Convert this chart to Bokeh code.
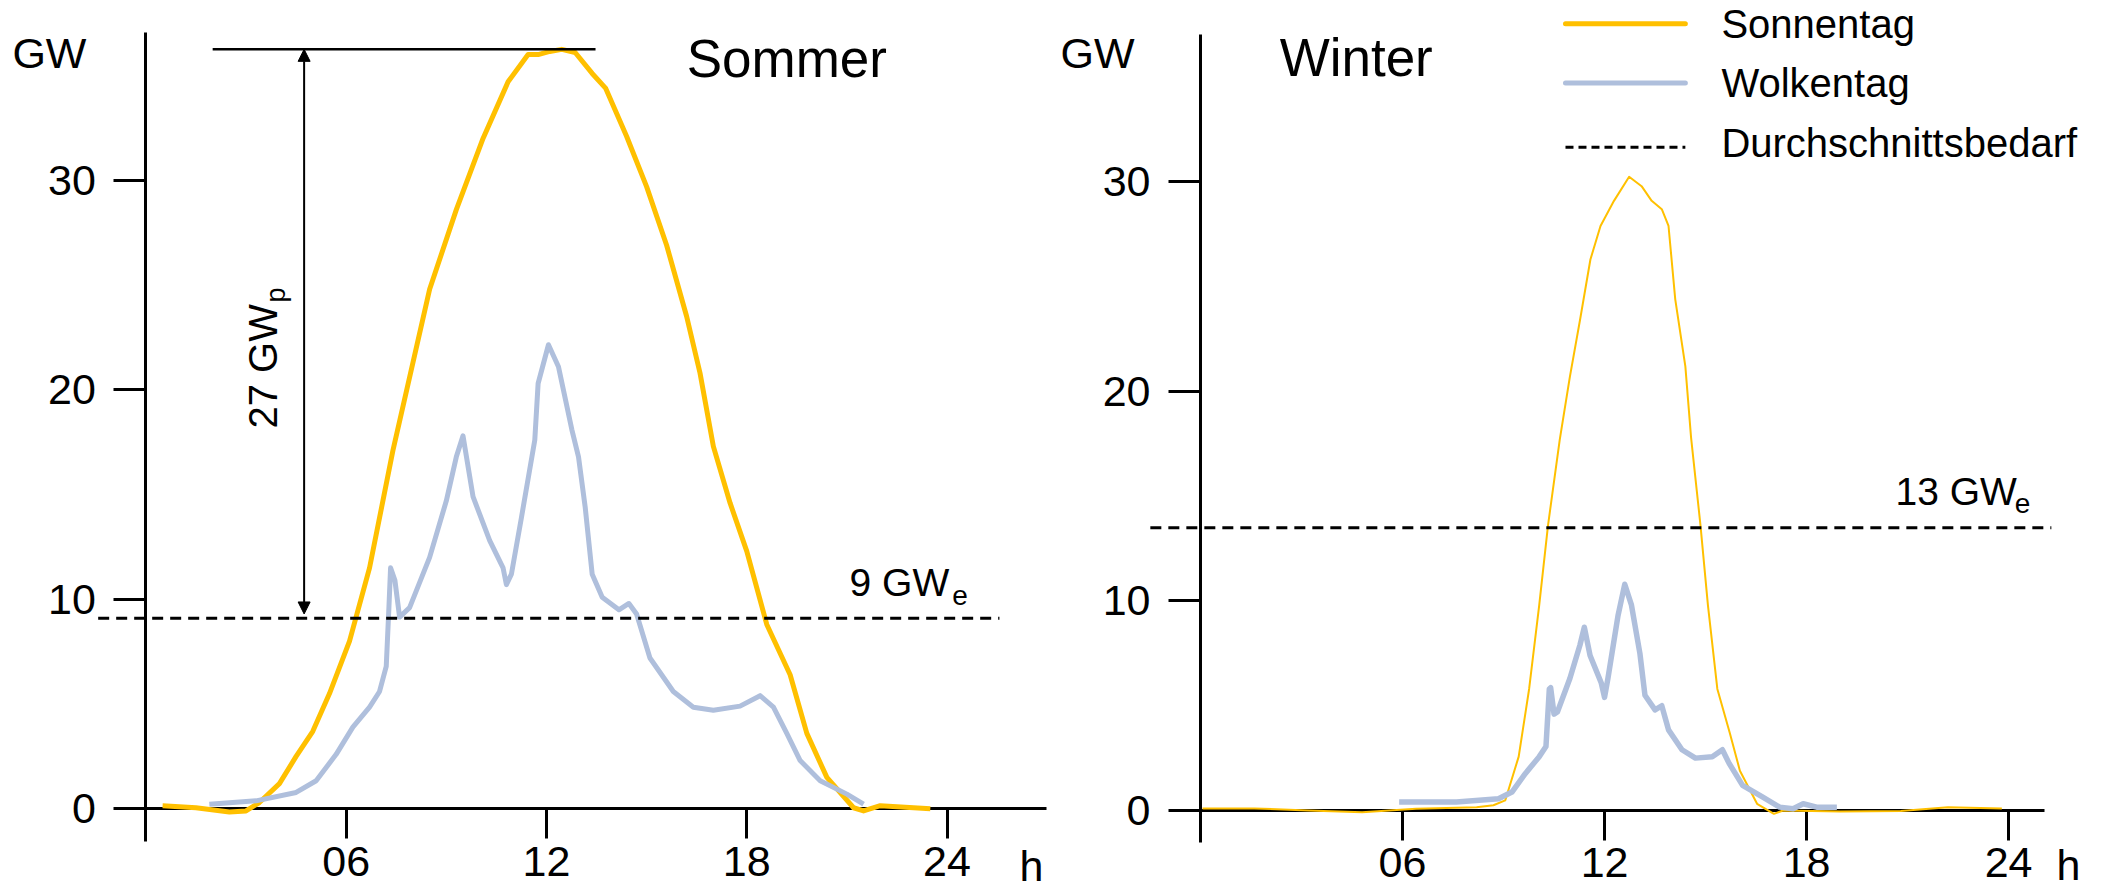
import math
from bokeh.plotting import figure
from bokeh.layouts import row
from bokeh.models import LinearAxis, FixedTicker, Range1d, Arrow, NormalHead
from bokeh.core.properties import value
from bokeh.embed import file_html
from bokeh.resources import INLINE

FONT = "Liberation Sans"
YELLOW = "#FFC000"
BLUE = "#AFBFDC"

# ---------------- data (hours, GW) ----------------
x_ticks = [6, 12, 18, 24]
x_tick_labels = ["06", "12", "18", "24"]
y_ticks = [0, 10, 20, 30]

sun_summer_h = [0.5, 1.5, 2.5, 3.0, 3.4, 4.0, 4.5, 5.0, 5.5, 6.1, 6.7, 7.4, 7.9, 8.5, 9.3, 10.1,
                10.85, 11.45, 11.75, 12.1, 12.46, 12.86, 13.37, 13.77, 14.4, 15.0, 15.6, 16.2,
                16.6, 17.0, 17.5, 18.0, 18.6, 19.3, 19.8, 20.4, 21.2, 21.5, 22.0, 23.5]
sun_summer_gw = [0.15, 0.05, -0.15, -0.1, 0.3, 1.2, 2.5, 3.7, 5.5, 8.0, 11.5, 17.1, 20.6, 24.8,
                 28.6, 32.0, 34.7, 36.0, 36.0, 36.15, 36.25, 36.1, 35.1, 34.4, 32.1, 29.7, 26.9,
                 23.5, 20.8, 17.3, 14.6, 12.3, 8.8, 6.4, 3.6, 1.5, 0.05, -0.1, 0.15, 0.0]

cloud_summer_h = [1.9, 3.3, 4.5, 5.1, 5.7, 6.2, 6.7, 7.0, 7.2, 7.28, 7.33, 7.46, 7.6, 7.9, 8.5,
                  9.0, 9.3, 9.5, 9.8, 10.3, 10.7, 10.8, 10.95, 11.25, 11.65, 11.75, 12.06, 12.36,
                  12.76, 12.96, 13.16, 13.37, 13.67, 14.17, 14.47, 14.7, 15.1, 15.8, 16.4, 17.0,
                  17.8, 18.4, 18.8, 19.2, 19.6, 20.2, 21.0, 21.5]
cloud_summer_gw = [0.22, 0.38, 0.78, 1.34, 2.6, 3.9, 4.85, 5.6, 6.8, 9.6, 11.5, 10.9, 9.15, 9.6,
                   12.0, 14.7, 16.8, 17.8, 14.9, 12.8, 11.5, 10.7, 11.2, 13.9, 17.6, 20.3, 22.15,
                   21.1, 18.1, 16.8, 14.4, 11.2, 10.1, 9.5, 9.8, 9.3, 7.2, 5.6, 4.85, 4.7, 4.9,
                   5.4, 4.85, 3.6, 2.3, 1.34, 0.7, 0.22]

sun_winter_h = [0.06, 1.6, 3.2, 4.8, 6.4, 8.2, 8.7, 9.05, 9.45, 9.76, 10.06, 10.32, 10.67, 10.97,
                11.27, 11.58, 11.88, 12.28, 12.73, 13.1, 13.4, 13.7, 13.9, 14.1, 14.4, 14.57,
                14.85, 15.07, 15.35, 15.72, 16.02, 16.53, 17.03, 17.3, 19.0, 20.8, 22.2, 23.8]
sun_winter_gw = [0.1, 0.1, 0.0, -0.08, 0.08, 0.16, 0.25, 0.48, 2.57, 5.8, 9.8, 13.6, 17.7, 20.7,
                 23.4, 26.3, 27.9, 29.1, 30.25, 29.8, 29.1, 28.7, 27.9, 24.4, 21.2, 17.8, 13.6,
                 9.8, 5.8, 3.7, 1.9, 0.32, -0.16, 0.0, -0.05, -0.03, 0.16, 0.1]

cloud_winter_h = [5.9, 7.6, 8.85, 9.25, 9.65, 10.06, 10.26, 10.36, 10.4, 10.5, 10.6, 10.97, 11.27,
                  11.4, 11.57, 11.9, 12.0, 12.1, 12.4, 12.6, 12.8, 13.05, 13.2, 13.5, 13.7, 13.9,
                  14.3, 14.7, 15.2, 15.5, 15.7, 16.1, 16.7, 17.2, 17.6, 17.9, 18.3, 18.9]
cloud_winter_gw = [0.4, 0.4, 0.56, 0.88, 1.77, 2.57, 3.05, 5.8, 5.86, 4.6, 4.7, 6.3, 7.9, 8.75,
                   7.4, 6.1, 5.4, 6.3, 9.3, 10.8, 9.8, 7.5, 5.5, 4.8, 5.0, 3.85, 2.9, 2.5, 2.57,
                   2.9, 2.25, 1.2, 0.64, 0.16, 0.08, 0.32, 0.16, 0.16]

demand_summer = 9.1     # GW_e
demand_winter = 13.5    # GW_e
peak_summer = 36.25
span_label = "27 GW"

legend_labels = ["Sonnentag", "Wolkentag", "Durchschnittsbedarf"]

SHIFT = 0.42  # baseline correction (fraction of font size)


def txt(p, x, y, s, size, align="left", rotated=False):
    off = -round(SHIFT * size)
    kw = dict(x_offset=off * 0.8) if rotated else dict(y_offset=off)
    p.text(x=[x], y=[y], text=[s], text_font=value(FONT), text_font_size=value(f"{size}px"),
           text_color="black", text_align=align, text_baseline="alphabetic",
           angle=(math.pi / 2 if rotated else 0.0), **kw)


def make_fig(width, xr, yr):
    p = figure(width=width, height=890, x_range=Range1d(*xr), y_range=Range1d(*yr),
               output_backend="svg", toolbar_location=None,
               x_axis_location=None, y_axis_location=None, min_border=0)
    p.outline_line_color = None
    p.background_fill_color = "white"
    p.border_fill_color = "white"
    p.grid.visible = False
    return p


def add_axes(p, xbounds, ybounds):
    xa = LinearAxis(fixed_location=0, bounds=xbounds, ticker=FixedTicker(ticks=x_ticks),
                    major_label_overrides={t: l for t, l in zip(x_ticks, x_tick_labels)})
    ya = LinearAxis(fixed_location=0, bounds=ybounds, ticker=FixedTicker(ticks=y_ticks))
    for ax, out, stand in ((xa, 30, 8), (ya, 32, 18)):
        ax.axis_line_width = 3
        ax.axis_line_color = "black"
        ax.major_tick_line_width = 3
        ax.major_tick_line_color = "black"
        ax.major_tick_out = out
        ax.major_tick_in = 0
        ax.minor_tick_line_color = None
        ax.major_label_text_font = FONT
        ax.major_label_text_font_size = "43px"
        ax.major_label_text_color = "black"
        ax.major_label_standoff = stand
        ax.level = "underlay"
    p.add_layout(xa, "below")
    p.add_layout(ya, "left")


# ---------------- Sommer ----------------
p1 = make_fig(1050, (-4.356, 27.10), (-3.900, 38.582))
add_axes(p1, (0, 26.98), (-1.54, 37.05))
p1.line(sun_summer_h, sun_summer_gw, line_color=YELLOW, line_width=5, line_join="round")
p1.line(cloud_summer_h, cloud_summer_gw, line_color=BLUE, line_width=5, line_join="round")
p1.line([-1.43, 25.57], [demand_summer, demand_summer], line_color="black", line_width=3,
        line_dash="11 7")
p1.line([2.0, 13.47], [peak_summer, peak_summer], line_color="black", line_width=2.5)
p1.add_layout(Arrow(x_start=4.74, y_start=demand_summer + 0.2, x_end=4.74, y_end=peak_summer,
                    line_width=2, line_color="black",
                    start=NormalHead(size=12, fill_color="black", line_color="black"),
                    end=NormalHead(size=12, fill_color="black", line_color="black")))
txt(p1, 3.91, 18.15, span_label, 40, rotated=True)
txt(p1, 4.15, 24.17, "p", 27, rotated=True)
txt(p1, -4.0, 35.24, "GW", 43)
txt(p1, 16.2, 34.76, "Sommer", 53)
txt(p1, 21.08, 10.02, "9 GW", 39)
txt(p1, 24.16, 9.62, "e", 28)
txt(p1, 26.53, -3.57, "h", 43, align="center")

# ---------------- Winter ----------------
p2 = make_fig(1059, (-4.455, 26.997), (-3.819, 38.663))
add_axes(p2, (0, 25.08), (-1.51, 37.04))
p2.line(sun_winter_h, sun_winter_gw, line_color=YELLOW, line_width=2, line_join="round")
p2.line(cloud_winter_h, cloud_winter_gw, line_color=BLUE, line_width=5.5, line_join="round")
p2.line([-1.49, 25.27], [demand_winter, demand_winter], line_color="black", line_width=3,
        line_dash="11 7")
txt(p2, -4.16, 35.32, "GW", 43)
txt(p2, 2.35, 34.89, "Winter", 53)
txt(p2, 20.64, 14.48, "13 GW", 39)
txt(p2, 24.18, 14.08, "e", 28)
txt(p2, 25.78, -3.48, "h", 43, align="center")

# legend
p2.line([10.84, 14.40], [37.55, 37.55], line_color=YELLOW, line_width=5, line_cap="round")
p2.line([10.84, 14.40], [34.72, 34.72], line_color=BLUE, line_width=5, line_cap="round")
p2.line([10.84, 14.40], [31.66, 31.66], line_color="black", line_width=3, line_dash="8 5")
for lab, yb in zip(legend_labels, [36.75, 33.92, 31.07]):
    txt(p2, 15.47, yb, lab, 40)

layout = row(p1, p2)
open("out.html", "w").write(file_html(layout, INLINE))
